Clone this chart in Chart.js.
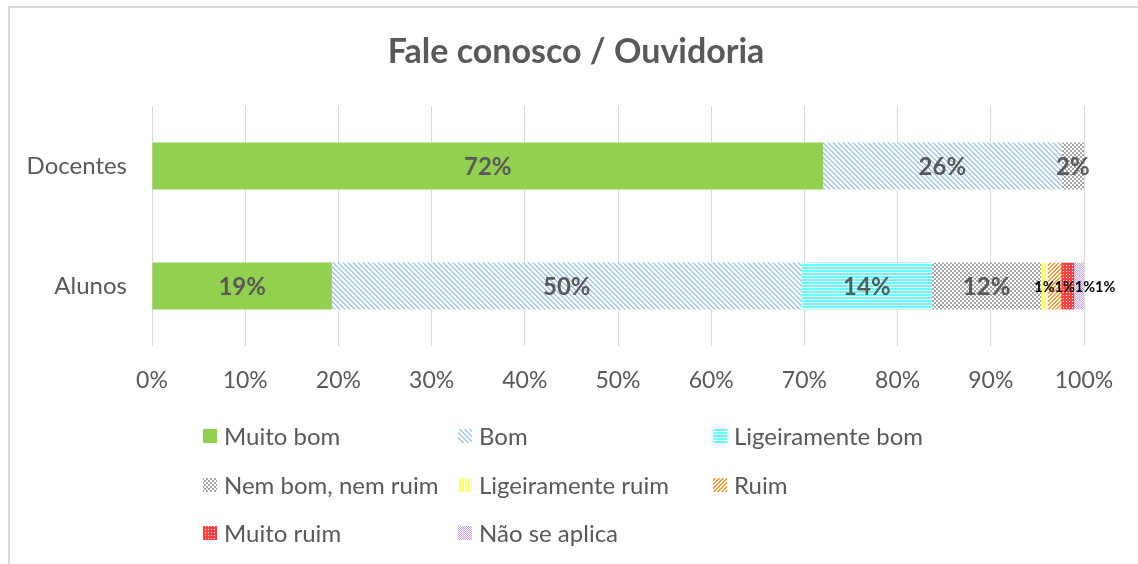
<!DOCTYPE html>
<html>
<head>
<meta charset="utf-8">
<title>Fale conosco / Ouvidoria</title>
<script src="https://cdn.jsdelivr.net/npm/chart.js@4.4.1/dist/chart.umd.min.js"></script>
<style>
  html, body { margin: 0; padding: 0; background: #fff; }
  #wrap { width: 1138px; height: 564px; position: relative; }
</style>
</head>
<body>
<div id="wrap"><canvas id="myChart" width="1138" height="564"></canvas></div>
<script>
// ---- data (percent of respondents) ----
const categories = ['Docentes', 'Alunos'];
const seriesNames = ['Muito bom', 'Bom', 'Ligeiramente bom', 'Nem bom, nem ruim',
                     'Ligeiramente ruim', 'Ruim', 'Muito ruim', 'Não se aplica'];
const muitoBom         = [72.0, 19.3];
const bom              = [25.6, 50.4];
const ligeiramenteBom  = [0,    14.0];
const nemBomNemRuim    = [2.4,  11.7];
const ligeiramenteRuim = [0,    0.7];
const ruim             = [0,    1.45];
const muitoRuim        = [0,    1.4];
const naoSeAplica      = [0,    1.05];
const xTickValues = [0, 10, 20, 30, 40, 50, 60, 70, 80, 90, 100];
const chartTitle = 'Fale conosco / Ouvidoria';

const FONT = 'Lato, "Open Sans", sans-serif';
const TEXT = '#595959';

const canvas = document.getElementById('myChart');
const ctx = canvas.getContext('2d');

// small pixel tiles used as fill patterns
const tile = (w, h, fg, on) => {
  const c = document.createElement('canvas');
  c.width = w; c.height = h;
  const g = c.getContext('2d');
  g.fillStyle = '#fff'; g.fillRect(0, 0, w, h);
  g.fillStyle = fg;
  for (let y = 0; y < h; y++)
    for (let x = 0; x < w; x++)
      if (on(x, y)) g.fillRect(x, y, 1, 1);
  return ctx.createPattern(c, 'repeat');
};

const fills = [
  '#92d050',
  tile(5, 5, '#a3caf4', (x, y) => ((x - y + 10) % 5) < 2),  // wide downward diagonal
  tile(1, 3, '#66ffff', (x, y) => y < 2),                   // horizontal lines
  tile(4, 4, '#a6a6a6', (x, y) => ((x >> 1) + (y >> 1)) % 2 === 0), // checker
  tile(3, 1, '#ffff66', (x, y) => x < 2),                   // vertical lines
  tile(4, 4, '#ff9933', (x, y) => ((x + y) % 4) < 2),       // upward diagonal
  tile(3, 3, '#ff4040', (x, y) => !(x === 1 && y === 1)),   // dotted grid
  tile(2, 2, '#c99cff', (x, y) => (x + y) % 2 === 0)        // fine checker
];

const seriesData = [muitoBom, bom, ligeiramenteBom, nemBomNemRuim,
                    ligeiramenteRuim, ruim, muitoRuim, naoSeAplica];

// chart frame (only left/top edges fall inside the canvas) and the title
const framePlugin = {
  id: 'frame',
  beforeDraw(chart) {
    const c = chart.ctx;
    c.save();
    c.strokeStyle = '#d9d9d9';
    c.lineWidth = 2;
    c.strokeRect(9, 7, 2000, 2000);
    c.font = 'bold 34px ' + FONT;
    c.fillStyle = TEXT;
    c.textAlign = 'center';
    c.textBaseline = 'middle';
    c.fillText(chartTitle, 576, 52);
    c.restore();
  }
};

// value labels inside the bars; tiny segments get a small font and are nudged right
const barLabels = {
  id: 'barLabels',
  afterDatasetsDraw(chart) {
    const c = chart.ctx;
    c.save();
    c.textAlign = 'center';
    c.textBaseline = 'middle';
    categories.forEach((cat, j) => {
      let prevRight = -Infinity;
      chart.data.datasets.forEach((ds, i) => {
        const v = ds.data[j];
        if (!v) return;
        const bar = chart.getDatasetMeta(i).data[j];
        const small = v < 2;
        c.font = (small ? 'bold 14.5px ' : 'bold 24px ') + FONT;
        c.fillStyle = small ? '#000' : TEXT;
        const text = Math.round(v) + '%';
        const w = c.measureText(text).width;
        let x = (bar.x + bar.base) / 2;
        if (x - w / 2 < prevRight) x = prevRight + w / 2;
        prevRight = x + w / 2;
        c.fillText(text, x, bar.y + 1);
      });
    });
    c.restore();
  }
};

// legend in three fixed columns under the axis
const gridLegend = {
  id: 'gridLegend',
  afterDraw(chart) {
    const c = chart.ctx;
    const colX = [203, 458, 713];
    const rowY = [436, 485, 533];
    c.save();
    c.font = '24px ' + FONT;
    c.textBaseline = 'middle';
    c.textAlign = 'left';
    chart.data.datasets.forEach((ds, i) => {
      const x = colX[i % 3], y = rowY[Math.floor(i / 3)];
      c.fillStyle = ds.backgroundColor;
      c.fillRect(x, y - 7, 14, 14);
      c.fillStyle = TEXT;
      c.fillText(ds.label, x + 21, y + 1);
    });
    c.restore();
  }
};

new Chart(ctx, {
  type: 'bar',
  data: {
    labels: categories,
    datasets: seriesNames.map((name, i) => ({
      label: name,
      data: seriesData[i],
      backgroundColor: fills[i],
      borderWidth: 0,
      barPercentage: 0.39,
      categoryPercentage: 1
    }))
  },
  options: {
    indexAxis: 'y',
    responsive: false,
    animation: false,
    layout: { padding: { left: 0, right: 54, top: 106, bottom: 0 } },
    plugins: {
      legend: { display: false },
      tooltip: { enabled: false },
      title: { display: false }
    },
    scales: {
      x: {
        stacked: true,
        min: 0,
        max: 100,
        afterBuildTicks: (scale) => { scale.ticks = xTickValues.map(v => ({ value: v })); },
        afterFit: (scale) => { scale.height = 218; },
        grid: { color: '#d9d9d9', lineWidth: 1, drawTicks: false },
        border: { display: false },
        ticks: {
          color: TEXT,
          font: { family: FONT, size: 23 },
          padding: 21,
          callback: (v) => v + '%'
        }
      },
      y: {
        stacked: true,
        afterFit: (scale) => { scale.width = 152; },
        grid: { display: false, drawTicks: false },
        border: { display: false },
        ticks: {
          color: TEXT,
          font: { family: FONT, size: 24 },
          padding: 25
        }
      }
    }
  },
  plugins: [framePlugin, barLabels, gridLegend]
});
</script>
</body>
</html>
